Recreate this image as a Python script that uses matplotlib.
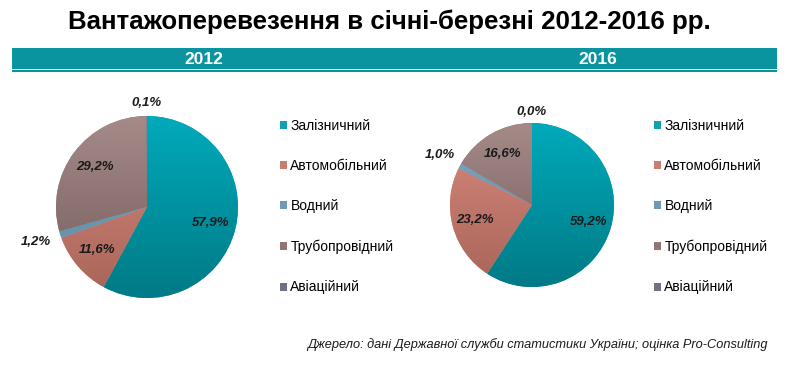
import numpy as np
import matplotlib
matplotlib.use("Agg")
import matplotlib.pyplot as plt
from matplotlib.patches import Rectangle, Patch
from matplotlib.colors import LinearSegmentedColormap

plt.rcParams['font.family'] = ['Liberation Sans', 'DejaVu Sans']

# ---- data ----
title = "Вантажоперевезення в січні-березні 2012-2016 рр."
years = ["2012", "2016"]
categories = ["Залізничний", "Автомобільний", "Водний", "Трубопровідний", "Авіаційний"]
values_2012 = [57.9, 11.6, 1.2, 29.2, 0.1]
values_2016 = [59.2, 23.2, 1.0, 16.6, 0.0]
source = "Джерело: дані Державної служби статистики України; оцінка Pro-Consulting"

# ---- style ----
W, H = 790, 372
top_colors = ["#00aabb", "#d98a7e", "#7aaac4", "#a58a88", "#7a7c90"]
bot_colors = ["#007a86", "#a86458", "#5a8aa2", "#735c5b", "#5c5e70"]
legend_colors = ["#12a0ae", "#cc7d72", "#6d9bb5", "#937474", "#6e7285"]
bar_color = "#0a949f"

fig = plt.figure(figsize=(W / 100, H / 100), dpi=100)
fig.patch.set_facecolor("white")


def fx(x):
    return x / W


def fy(y):
    return (H - y) / H


# title
fig.text(fx(389), fy(22), title, ha="center", va="center", fontsize=18.6,
         fontweight="bold", color="black")

# header bar
fig.add_artist(Rectangle((fx(12), fy(69)), (777 - 12) / W, 21 / H,
                         transform=fig.transFigure, color=bar_color, lw=0))
fig.add_artist(Rectangle((fx(12), fy(71.5)), (777 - 12) / W, 1.2 / H,
                         transform=fig.transFigure, color=bar_color, lw=0))
for yr, x in zip(years, [204, 598]):
    fig.text(fx(x), fy(59), yr, ha="center", va="center", fontsize=12.5,
             fontweight="bold", color="white")


def draw_pie(values, cx, cy, R, legend_x):
    S = 1.6
    ax = fig.add_axes([fx(cx - R * S), fy(cy + R * S), 2 * R * S / W, 2 * R * S / H])
    wedges, _ = ax.pie(values, startangle=90, counterclock=False, radius=1,
                       colors=legend_colors, wedgeprops=dict(linewidth=0))
    grad = np.linspace(0, 1, 256).reshape(-1, 1)
    for w, tc, bc in zip(wedges, top_colors, bot_colors):
        cmap = LinearSegmentedColormap.from_list("g", [bc, tc])
        im = ax.imshow(grad, extent=(-1, 1, -1, 1), origin="lower", cmap=cmap,
                       aspect="auto", zorder=w.get_zorder() + 0.1)
        im.set_clip_path(w)
    ax.set_xlim(-S, S)
    ax.set_ylim(-S, S)
    ax.set_aspect("equal")
    ax.axis("off")

    total = sum(values)
    cum = 0.0
    for v in values:
        mid = np.deg2rad(90 - 360 * (cum + v / 2) / total)
        cum += v
        if v < 0.5:
            d = 1.14
        elif v < 3:
            d = 1.28
        else:
            d = 0.72
        ax.text(d * np.cos(mid), d * np.sin(mid), f"{v:.1f}%".replace(".", ","),
                ha="center", va="center", fontsize=9.5, fontweight="bold",
                fontstyle="italic", color="#1a1a1a", zorder=10)

    handles = [Patch(facecolor=c, edgecolor="none") for c in legend_colors]
    fig.legend(handles, categories, loc="upper left",
               bbox_to_anchor=(fx(legend_x), fy(118.5)), frameon=False,
               fontsize=10, handlelength=0.5, handleheight=0.5,
               handletextpad=0.25, labelspacing=1.9, borderaxespad=0,
               borderpad=0)
    return ax


draw_pie(values_2012, 147, 207, 91, 280)
draw_pie(values_2016, 532, 205, 82, 654)

fig.text(fx(768), fy(345), source, ha="right", va="center", fontsize=9.2,
         fontstyle="italic", color="#1a1a1a")

fig.savefig("out.png", dpi=100)
